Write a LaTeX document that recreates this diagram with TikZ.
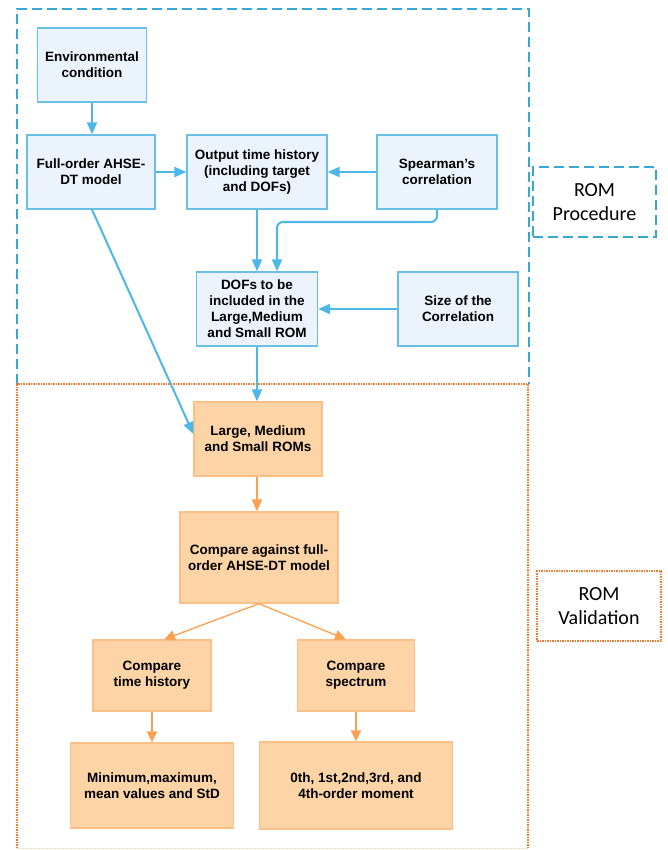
\documentclass[tikz,border=0pt]{standalone}
\usepackage{fontspec}
\setmainfont{Liberation Sans}
\newfontfamily\labfont{Carlito}
\usetikzlibrary{arrows.meta}
\definecolor{bfill}{RGB}{235,244,252}
\definecolor{bline}{RGB}{105,192,228}
\definecolor{barr}{RGB}{77,184,232}
\definecolor{bdash}{RGB}{56,168,210}
\definecolor{ofill}{RGB}{253,212,166}
\definecolor{oline}{RGB}{250,192,135}
\definecolor{oarr}{RGB}{250,160,80}
\definecolor{odot}{RGB}{240,125,50}
\tikzset{
  bbox/.style={draw=bline, fill=bfill, line width=1.3pt, align=center, inner sep=2pt,
    font=\fontsize{13.5}{16}\selectfont\bfseries},
  obox/.style={draw=oline, fill=ofill, line width=1.3pt, align=center, inner sep=2pt,
    font=\fontsize{13.5}{16}\selectfont\bfseries},
  barrow/.style={draw=barr, line width=2pt, -{Triangle[length=12pt,width=10pt]}},
  oarrow/.style={draw=oarr, line width=2pt, -{Triangle[length=12pt,width=10pt]}},
  oarrowthin/.style={draw=oarr, line width=1.3pt, -{Triangle[length=11pt,width=10pt]}},
  lab/.style={align=center, font=\labfont\fontsize{20}{24}\selectfont, inner sep=0pt}
}
\begin{document}
\begin{tikzpicture}[x=1pt,y=-1pt]
\useasboundingbox (0,0) rectangle (667,850);
% group frames
\draw[bdash, line width=1.8pt, dash pattern=on 10pt off 5pt] (17,384) -- (17,9) -- (529,9) -- (529,384);
\draw[odot, line width=1.5pt, densely dotted] (17,848) -- (17,384) -- (528,384) -- (528,848);
\draw[odot!40, line width=1pt, densely dotted] (17,848) -- (528,848);
% labels
\node[lab, draw=bdash, line width=1.8pt, dash pattern=on 10pt off 5pt, minimum width=123pt, minimum height=70pt] (proc) at (594.5,202) {ROM\\Procedure};
\node[lab, draw=odot, line width=1.5pt, densely dotted, minimum width=124pt, minimum height=70pt] (valid) at (599,606) {ROM\\Validation};
% blue boxes
\node[bbox, minimum width=109pt, minimum height=74pt] (env) at (92,65) {Environmental\\condition};
\node[bbox, minimum width=128pt, minimum height=74pt] (full) at (91,172) {Full-order AHSE-\\DT model};
\node[bbox, minimum width=140pt, minimum height=74pt] (out) at (257,172) {Output time history\\(including target\\and DOFs)};
\node[bbox, minimum width=120pt, minimum height=74pt] (spear) at (437,172) {Spearman's\\correlation};
\node[bbox, minimum width=121pt, minimum height=74pt] (dofs) at (257,309) {DOFs to be\\included in the\\Large,Medium\\and Small ROM};
\node[bbox, minimum width=120pt, minimum height=74pt] (size) at (458,309) {Size of the\\Correlation};
% orange boxes
\node[obox, minimum width=128pt, minimum height=74pt] (large) at (258,439) {Large, Medium\\and Small ROMs};
\node[obox, minimum width=158pt, minimum height=91pt] (cmp) at (259,557.5) {Compare against full-\\order AHSE-DT model};
\node[obox, minimum width=118pt, minimum height=71pt] (cth) at (152,675.5) {Compare\\time history};
\node[obox, minimum width=117pt, minimum height=71pt] (csp) at (356,675.5) {Compare\\spectrum};
\node[obox, minimum width=163pt, minimum height=85pt] (minv) at (152,785.5) {Minimum,maximum,\\mean values and StD};
\node[obox, minimum width=193pt, minimum height=87pt] (mom) at (356,785.5) {0th, 1st,2nd,3rd, and\\4th-order moment};
% connectors
\draw[barrow] (env) -- (env.south |- full.north);
\draw[barrow] (full) -- (out);
\draw[barrow] (spear) -- (out);
\draw[barrow] (out.south) -- (out.south |- dofs.north);
\coordinate (bend) at (277,222);
\draw[barrow, rounded corners=6pt] (spear.south) |- (bend) -- (bend |- dofs.north);
\draw[barrow] (size) -- (dofs);
\draw[barrow] (dofs.south) -- (dofs.south |- large.north);
\draw[barrow] ([xshift=1pt]full.south) -- ([yshift=5pt]large.west);
\draw[oarrow] (large.south -| dofs.south) -- (dofs.south |- cmp.north);
\draw[oarrowthin] (cmp.south) -- ([xshift=12pt]cth.north);
\draw[oarrowthin] (cmp.south) -- ([xshift=-10pt]csp.north);
\draw[oarrowthin] (cth) -- (cth.south |- minv.north);
\draw[oarrowthin] (csp) -- (csp.south |- mom.north);
\end{tikzpicture}
\end{document}
